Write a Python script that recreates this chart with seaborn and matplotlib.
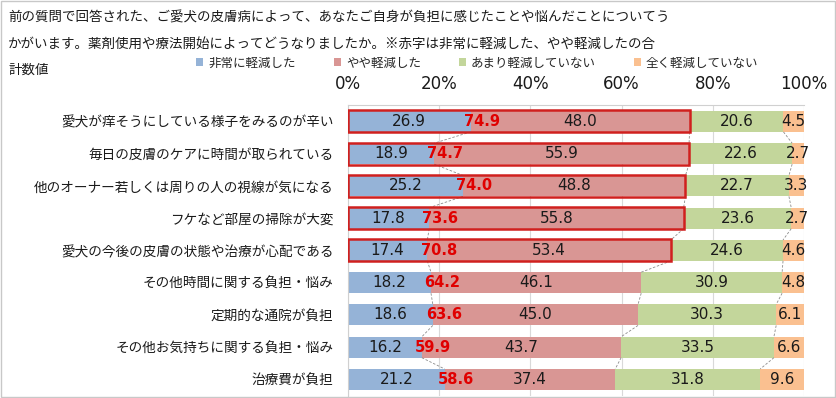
import numpy as np
import pandas as pd
import matplotlib
matplotlib.use("Agg")
import matplotlib.pyplot as plt
import seaborn as sns
from matplotlib.patches import Patch, Rectangle

# ---------------- data ----------------
categories = [
    "愛犬が痒そうにしている様子をみるのが辛い",
    "毎日の皮膚のケアに時間が取られている",
    "他のオーナー若しくは周りの人の視線が気になる",
    "フケなど部屋の掃除が大変",
    "愛犬の今後の皮膚の状態や治療が心配である",
    "その他時間に関する負担・悩み",
    "定期的な通院が負担",
    "その他お気持ちに関する負担・悩み",
    "治療費が負担",
]
very_reduced = [26.9, 18.9, 25.2, 17.8, 17.4, 18.2, 18.6, 16.2, 21.2]
some_reduced = [48.0, 55.9, 48.8, 55.8, 53.4, 46.1, 45.0, 43.7, 37.4]
little_reduced = [20.6, 22.6, 22.7, 23.6, 24.6, 30.9, 30.3, 33.5, 31.8]
not_reduced = [4.5, 2.7, 3.3, 2.7, 4.6, 4.8, 6.1, 6.6, 9.6]
combined = [74.9, 74.7, 74.0, 73.6, 70.8, 64.2, 63.6, 59.9, 58.6]
n_highlight = 5
series_names = ["非常に軽減した", "やや軽減した", "あまり軽減していない", "全く軽減していない"]
xticks = [0, 20, 40, 60, 80, 100]
xtick_labels = ["0%", "20%", "40%", "60%", "80%", "100%"]
title_lines = [
    "前の質問で回答された、ご愛犬の皮膚病によって、あなたご自身が負担に感じたことや悩んだことについてう",
    "かがいます。薬剤使用や療法開始によってどうなりましたか。※赤字は非常に軽減した、やや軽減したの合",
    "計数値",
]

colors = ["#95B3D7", "#D99694", "#C3D69B", "#FAC090"]

# ---------------- style ----------------
sns.set_theme(style="white")
plt.rcParams["font.family"] = ["Noto Sans CJK JP", "DejaVu Sans"]

series = [very_reduced, some_reduced, little_reduced, not_reduced]
cum = np.cumsum(np.array(series), axis=0)  # 4 x 9

df = pd.DataFrame({"category": categories})
for k in range(4):
    df[f"cum{k}"] = cum[k]

fig = plt.figure(figsize=(8.37, 3.98), dpi=100)
ax = fig.add_axes([348 / 837, 1 - 395.6 / 398, 456 / 837, 290.3 / 398])

bar_h = 0.65
for k in [3, 2, 1, 0]:
    sns.barplot(data=df, x=f"cum{k}", y="category", order=categories,
                color=colors[k], saturation=1, width=bar_h, orient="h",
                errorbar=None, ax=ax, linewidth=0)

# highlight boxes for the top rows (very + some reduced)
ax.barh(np.arange(n_highlight), cum[1][:n_highlight], height=0.68, left=0,
        fill=False, edgecolor="#D0201E", linewidth=1.8, zorder=5)

# series lines
for i in range(len(categories) - 1):
    for k in range(3):
        ax.plot([cum[k][i], cum[k][i + 1]], [i + bar_h / 2, i + 1 - bar_h / 2],
                ls=(0, (3, 2)), color="#8C8C8C", lw=0.6, zorder=1)

# value labels
for i in range(len(categories)):
    starts = [0, cum[0][i], cum[1][i], cum[2][i]]
    for k in range(4):
        val = series[k][i]
        ax.text(starts[k] + val / 2, i, f"{val:.1f}", ha="center", va="center",
                fontsize=11, color="#1A1A1A", family="DejaVu Sans", zorder=6)
    ax.text(cum[0][i] - 1.5, i, f"{combined[i]:.1f}", ha="left", va="center",
            fontsize=10.5, color="#E00000", fontweight="bold",
            family="DejaVu Sans", zorder=6)

# axes
ax.set_xlim(0, 100)
ax.set_ylim(len(categories) - 0.5, -0.5)
ax.xaxis.tick_top()
ax.set_xticks(xticks)
ax.set_xticklabels(xtick_labels, fontsize=12, family="DejaVu Sans", color="#1A1A1A")
ax.tick_params(axis="x", length=0, pad=9)
ax.tick_params(axis="y", length=0, pad=10.5, labelsize=9.8, labelcolor="#1A1A1A")
ax.set_xlabel("")
ax.set_ylabel("")
ax.grid(axis="x", color="#D9D9D9", lw=0.8)
ax.set_axisbelow(True)
for s in ["right", "bottom"]:
    ax.spines[s].set_visible(False)
for s in ["left", "top"]:
    ax.spines[s].set_color("#D0D0D0")
    ax.spines[s].set_linewidth(0.8)

# title
ys = [1 - 18 / 398, 1 - 44 / 398, 1 - 70 / 398]
for t, y in zip(title_lines, ys):
    fig.text(8 / 837, y, t, fontsize=9.7, va="center", ha="left", color="#1A1A1A")

# legend
handles = [Patch(facecolor=c, edgecolor="none") for c in colors]
fig.legend(handles, series_names, ncol=4, loc="center left",
           bbox_to_anchor=(196 / 837, 1 - 63 / 398), frameon=False,
           fontsize=9, handlelength=0.6, handleheight=0.6, handletextpad=0.4,
           columnspacing=3.0, borderpad=0, borderaxespad=0)

fig.patches.append(Rectangle((0.001, 0.002), 0.997, 0.996, transform=fig.transFigure,
                             fill=False, edgecolor="#C8C8C8", lw=1))

fig.savefig("out.png", dpi=100)
